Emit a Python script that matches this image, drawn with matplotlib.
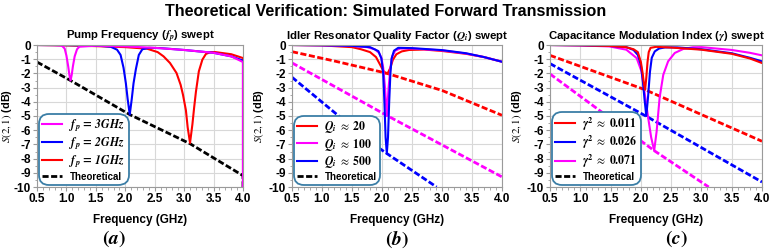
import numpy as np
import matplotlib
matplotlib.use("Agg")
import matplotlib.pyplot as plt
from matplotlib.ticker import MultipleLocator

plt.rcParams["font.family"] = ["Liberation Sans", "DejaVu Sans"]
plt.rcParams["mathtext.fontset"] = "stix"

# ---- panel (a): pump frequency sweep ----
fa_p3 = [0.5, 0.8, 0.9, 0.93, 0.97, 1.00, 1.03, 1.05, 1.07, 1.09, 1.11, 1.14, 1.18, 1.22, 1.5, 2.0, 2.5, 3.0, 3.5, 3.8, 4.0, 4.0]
sa_p3 = [0, -0.01, -0.04, -0.08, -0.25, -0.75, -1.5, -2.1, -2.5, -2.1, -1.5, -0.8, -0.3, -0.12, -0.05, -0.1, -0.2, -0.35, -0.55, -0.8, -1.2, -10.5]
fa_p2 = [0.5, 1.0, 1.5, 1.75, 1.86, 1.92, 1.97, 2.01, 2.04, 2.076, 2.11, 2.14, 2.18, 2.23, 2.29, 2.4, 2.6, 3.0, 3.5, 3.8, 4.0, 4.0]
sa_p2 = [0, -0.01, -0.04, -0.12, -0.33, -0.7, -1.6, -2.7, -3.8, -4.9, -3.8, -2.7, -1.7, -0.7, -0.3, -0.2, -0.22, -0.35, -0.55, -0.8, -1.1, -10.5]
fa_p1 = [0.5, 1.0, 1.5, 2.0, 2.37, 2.55, 2.65, 2.76, 2.87, 2.94, 2.98, 3.03, 3.06, 3.1, 3.14, 3.17, 3.2, 3.25, 3.31, 3.37, 3.45, 3.53, 3.8, 4.0, 4.0]
sa_p1 = [0, -0.03, -0.08, -0.15, -0.26, -0.5, -0.8, -1.27, -1.97, -2.8, -3.5, -4.6, -5.8, -6.9, -5.6, -4.4, -3.3, -1.85, -1.03, -0.63, -0.5, -0.5, -0.65, -0.92, -10.5]
fa_th = [0.5, 1.07, 2.076, 3.1, 4.0, 4.0]
sa_th = [-1.2, -2.5, -4.9, -6.95, -9.2, -10.5]

# ---- panel (b): idler Q sweep ----
fb_q20 = [0.5, 1.0, 1.5, 1.65, 1.8, 1.9, 1.97, 2.02, 2.06, 2.10, 2.14, 2.18, 2.24, 2.33, 2.45, 2.7, 3.0, 3.4, 3.7, 4.0]
sb_q20 = [0, -0.03, -0.15, -0.3, -0.5, -0.85, -1.4, -1.8, -2.0, -1.95, -1.6, -1.05, -0.65, -0.45, -0.35, -0.32, -0.42, -0.62, -0.85, -1.18]
fb_q100 = [0.5, 1.0, 1.5, 1.75, 1.88, 1.95, 1.99, 2.02, 2.05, 2.08, 2.11, 2.14, 2.17, 2.22, 2.3, 2.5, 3.0, 3.4, 3.7, 4.0]
sb_q100 = [0, -0.02, -0.07, -0.15, -0.3, -0.55, -0.9, -1.6, -3.0, -5.0, -3.0, -1.6, -0.8, -0.4, -0.25, -0.25, -0.38, -0.6, -0.85, -1.18]
fb_q500 = [0.5, 1.0, 1.5, 1.8, 1.94, 1.99, 2.02, 2.04, 2.06, 2.08, 2.10, 2.12, 2.14, 2.16, 2.2, 2.27, 2.5, 3.0, 3.4, 3.7, 4.0]
sb_q500 = [0, -0.02, -0.06, -0.15, -0.43, -0.95, -2.0, -4.0, -6.5, -7.64, -6.5, -4.0, -2.0, -0.95, -0.4, -0.2, -0.22, -0.36, -0.58, -0.85, -1.18]
fb_th20 = [0.5, 1.22, 2.06, 3.0, 4.0]
sb_th20 = [-0.47, -1.14, -1.97, -3.2, -4.95]
fb_th100 = [0.5, 2.08, 4.0]
sb_th100 = [-1.26, -4.96, -9.29]
fb_th500 = [0.5, 1.77, 2.08, 2.91]
sb_th500 = [-2.27, -6.72, -7.64, -10.0]

# ---- panel (c): modulation index sweep ----
fc_g1 = [0.5, 1.0, 1.5, 1.75, 1.88, 1.95, 2.0, 2.03, 2.05, 2.07, 2.09, 2.11, 2.13, 2.16, 2.25, 2.5, 3.0, 3.5, 3.8, 4.0]
sc_g1 = [0, -0.02, -0.07, -0.15, -0.3, -0.5, -1.2, -2.0, -2.7, -3.15, -2.3, -1.2, -0.5, -0.2, -0.13, -0.18, -0.33, -0.62, -0.95, -1.27]
fc_g2 = [0.5, 1.0, 1.5, 1.76, 1.88, 1.95, 2.0, 2.03, 2.06, 2.09, 2.12, 2.15, 2.18, 2.23, 2.3, 2.4, 2.6, 3.0, 3.5, 3.8, 4.0]
sc_g2 = [0, -0.02, -0.07, -0.15, -0.35, -0.7, -1.4, -2.4, -3.8, -5.0, -3.6, -1.9, -0.9, -0.45, -0.25, -0.17, -0.17, -0.3, -0.58, -0.9, -1.15]
fc_g3 = [0.5, 1.0, 1.48, 1.76, 1.93, 2.01, 2.06, 2.12, 2.17, 2.22, 2.26, 2.31, 2.37, 2.45, 2.56, 2.7, 2.86, 3.0, 3.5, 3.8, 4.0]
sc_g3 = [0, -0.03, -0.1, -0.33, -0.92, -1.85, -3.3, -5.1, -6.5, -7.44, -6.1, -3.7, -2.1, -1.15, -0.56, -0.28, -0.16, -0.15, -0.35, -0.55, -0.73]
fc_th1 = [0.5, 2.07, 4.0]
sc_th1 = [-0.73, -3.15, -6.78]
fc_th2 = [0.5, 2.09, 4.0]
sc_th2 = [-1.31, -5.02, -9.65]
fc_th3 = [0.5, 2.22, 3.12]
sc_th3 = [-2.04, -7.44, -10.0]

RED, BLUE, MAG = "#ff0000", "#0000ff", "#ff00ff"
DASH = (2.2, 0.9)
BOX = "#3b7ea6"

fig = plt.figure(figsize=(7.72, 2.5), dpi=100)
lefts = [37, 292, 550]
widths = [206, 210, 212]
axes = [fig.add_axes([l / 772, 1 - 187 / 250, w / 772, 142 / 250]) for l, w in zip(lefts, widths)]


def style(ax, title, ylab_x):
    ax.set_xlim(0.5, 4.0)
    ax.set_ylim(-10, 0)
    ax.xaxis.set_minor_locator(MultipleLocator(0.1))
    ax.yaxis.set_minor_locator(MultipleLocator(0.5))
    ax.grid(True, color="#d8d8d8", lw=0.8)
    ax.set_axisbelow(True)
    for s in ax.spines.values():
        s.set_color("#9a9a9a")
    ax.tick_params(which="both", color="#9a9a9a", direction="out")
    ax.tick_params(which="major", length=3, labelsize=8.5, pad=1.5)
    ax.tick_params(which="minor", length=1.8)
    ax.set_xticks(np.arange(0.5, 4.01, 0.5))
    ax.set_xticklabels([f"{v:.1f}" for v in np.arange(0.5, 4.01, 0.5)], fontweight="bold")
    ax.set_yticks(np.arange(-10, 0.1, 1))
    ax.set_yticklabels([f"{v:d}" for v in range(-10, 1)], fontweight="bold")
    ax.set_xlabel("Frequency (GHz)", fontsize=8.5, fontweight="bold", labelpad=6)
    ax.set_ylabel(r"$S(2,1)$ (dB)", fontsize=7.8, fontweight="bold")
    ax.yaxis.set_label_coords(ylab_x, 0.5)
    ax.set_title(title, fontsize=8.2, fontweight="bold", pad=4)


def legend(ax, handles, labels):
    leg = ax.legend(handles, labels, loc="lower left", bbox_to_anchor=(0, 0),
                    borderaxespad=0.15, fontsize=8.5, handlelength=1.7,
                    handletextpad=0.6, labelspacing=0.12, borderpad=0.3,
                    fancybox=True, framealpha=1, edgecolor=BOX)
    fr = leg.get_frame()
    fr.set_linewidth(1.3)
    fr.set_boxstyle("round", pad=0.0, rounding_size=0.9)
    t = leg.get_texts()[-1]
    t.set_fontsize(7)
    t.set_fontweight("bold")
    return leg


# (a)
ax = axes[0]
style(ax, r"Pump Frequency ($\mathbfit{f_p}$) swept", -0.11)
th, = ax.plot(fa_th, sa_th, color="black", lw=2, dashes=DASH)
l1, = ax.plot(fa_p1, sa_p1, color=RED, lw=1.5)
l2, = ax.plot(fa_p2, sa_p2, color=BLUE, lw=1.5)
l3, = ax.plot(fa_p3, sa_p3, color=MAG, lw=1.5)
legend(ax, [l3, l2, l1, th],
       [r"$\mathbfit{f_p}\,\mathbf{=}\,\mathbfit{3GHz}$", r"$\mathbfit{f_p}\,\mathbf{=}\,\mathbfit{2GHz}$",
        r"$\mathbfit{f_p}\,\mathbf{=}\,\mathbfit{1GHz}$", "Theoretical"])

# (b)
ax = axes[1]
style(ax, r"Idler Resonator Quality Factor ($\mathbfit{Q_i}$) swept", -0.125)
ax.plot(fb_th20, sb_th20, color=RED, lw=2, dashes=DASH)
ax.plot(fb_th100, sb_th100, color=MAG, lw=2, dashes=DASH)
ax.plot(fb_th500, sb_th500, color=BLUE, lw=2, dashes=DASH)
l1, = ax.plot(fb_q20, sb_q20, color=RED, lw=1.5)
l2, = ax.plot(fb_q100, sb_q100, color=MAG, lw=1.5)
l3, = ax.plot(fb_q500, sb_q500, color=BLUE, lw=1.5)
th, = ax.plot([], [], color="black", lw=2, dashes=DASH)
legend(ax, [l1, l2, l3, th],
       [r"$\mathbfit{Q_i}\ \approx\ \mathbf{20}$", r"$\mathbfit{Q_i}\ \approx\ \mathbf{100}$",
        r"$\mathbfit{Q_i}\ \approx\ \mathbf{500}$", "Theoretical"])

# (c)
ax = axes[2]
style(ax, r"Capacitance Modulation Index ($\mathbfit{\gamma}$) swept", -0.125)
ax.plot(fc_th1, sc_th1, color=RED, lw=2, dashes=DASH)
ax.plot(fc_th2, sc_th2, color=BLUE, lw=2, dashes=DASH)
ax.plot(fc_th3, sc_th3, color=MAG, lw=2, dashes=DASH)
l3, = ax.plot(fc_g3, sc_g3, color=MAG, lw=1.5)
l2, = ax.plot(fc_g2, sc_g2, color=BLUE, lw=1.5)
l1, = ax.plot(fc_g1, sc_g1, color=RED, lw=1.5)
th, = ax.plot([], [], color="black", lw=2, dashes=DASH)
legend(ax, [l1, l2, l3, th],
       [r"$\mathbfit{\gamma}^{\mathbf{2}}\ \approx\ \mathbf{0.011}$",
        r"$\mathbfit{\gamma}^{\mathbf{2}}\ \approx\ \mathbf{0.026}$",
        r"$\mathbfit{\gamma}^{\mathbf{2}}\ \approx\ \mathbf{0.071}$", "Theoretical"])

fig.text(0.5, 1 - 12 / 250, "Theoretical Verification: Simulated Forward Transmission",
         ha="center", va="center", fontsize=11.6, fontweight="bold")
for x, s in zip([114, 397, 676], "abc"):
    fig.text(x / 772, 1 - 239 / 250, r"$\mathbf{(}\mathbfit{%s}\mathbf{)}$" % s,
             ha="center", va="center", fontsize=14)

fig.savefig("out.png", dpi=100)
